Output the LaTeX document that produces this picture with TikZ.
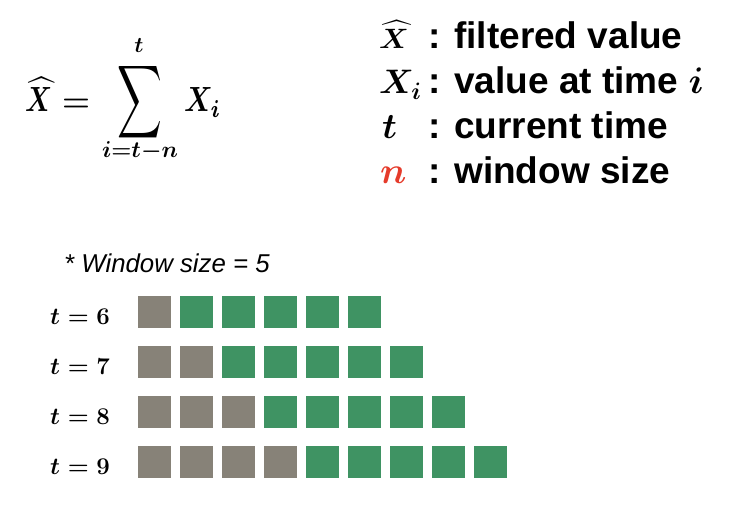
\RequirePackage{fix-cm}
\documentclass[tikz,border=0pt]{standalone}
\usepackage{fontspec}
\setmainfont{Liberation Sans}
\usepackage{graphicx}
\definecolor{sqgray}{HTML}{878278}
\definecolor{sqgreen}{HTML}{3F9363}
\definecolor{nred}{HTML}{E53B2B}
\newcommand{\mybox}[3]{\scalebox{#1}[#2]{\fontsize{10}{12}\selectfont\boldmath$#3$}}
\tikzset{
  sq/.style={minimum width=33pt,minimum height=32pt,inner sep=0pt,anchor=north west},
  oldsq/.style={sq,fill=sqgray},
  newsq/.style={sq,fill=sqgreen},
  legtext/.style={inner sep=0pt,anchor=base west,font=\fontsize{37}{44}\selectfont\bfseries\boldmath},
  legmath/.style={inner sep=0pt,anchor=base west,font=\fontsize{34}{44}\selectfont\boldmath},
  fmath/.style={inner sep=0pt,font=\fontsize{32}{40}\selectfont\boldmath},
  tlabel/.style={inner sep=0pt,anchor=base west,font=\fontsize{24}{28}\selectfont\boldmath},
}
\begin{document}
\begin{tikzpicture}[x=1pt,y=-1pt]
\useasboundingbox (0,0) rectangle (734,508);
% formula
\node[inner sep=0pt,anchor=base west] (hx) at (25,112) {\mybox{2.65}{3.5}{\widehat{X}}};
\node[fmath,anchor=base] (eq) at (76,112) {$=$};
\node[inner sep=0pt] (sum) at (140,102) {\scalebox{3.1}[5.1]{\fontsize{10}{12}\selectfont$\displaystyle\sum$}};
\node[fmath,font=\fontsize{22}{26}\selectfont\boldmath,anchor=base] (top) at (139,53) {$t$};
\node[fmath,font=\fontsize{23}{26}\selectfont\boldmath,anchor=base] (bot) at (140,158) {$i{=}t{-}n$};
\node[inner sep=0pt,anchor=base west] (xi) at (184,112) {\mybox{2.8}{3.5}{X_i}};
% legend
\node[inner sep=0pt,anchor=base west] (l1m) at (379,49) {\mybox{2.9}{2.8}{\widehat{X}}};
\node[legtext] (l1t) at (428,49) {: filtered value};
\node[legmath] (l2m) at (379,94) {$X_i$};
\node[legtext] (l2t) at (428,94) {: value at time $i$};
\node[legmath,font=\fontsize{36}{44}\selectfont\boldmath] (l3m) at (382,139) {$t$};
\node[legtext] (l3t) at (428,139) {: current time};
\node[legmath,text=nred,font=\fontsize{37}{44}\selectfont\boldmath] (l4m) at (380,184) {$n$};
\node[legtext] (l4t) at (428,184) {: window size};
% window note
\node[inner sep=0pt,anchor=base west,font=\fontsize{25.8}{30}\selectfont\itshape] (note) at (64,272) {* Window size = 5};
% rows
\foreach \r in {0,1,2,3}{
  \pgfmathtruncatemacro{\tv}{6+\r}
  \node[tlabel] (lab\r) at (50,{324+50*\r}) {$t=\tv$};
  \pgfmathtruncatemacro{\ncount}{5+\r}
  \foreach \k in {0,...,\ncount}{
    \ifnum\k>\r
      \node[newsq] (s\r-\k) at ({138+42*\k},{296+50*\r}) {};
    \else
      \node[oldsq] (s\r-\k) at ({138+42*\k},{296+50*\r}) {};
    \fi
  }
}
\end{tikzpicture}
\end{document}
